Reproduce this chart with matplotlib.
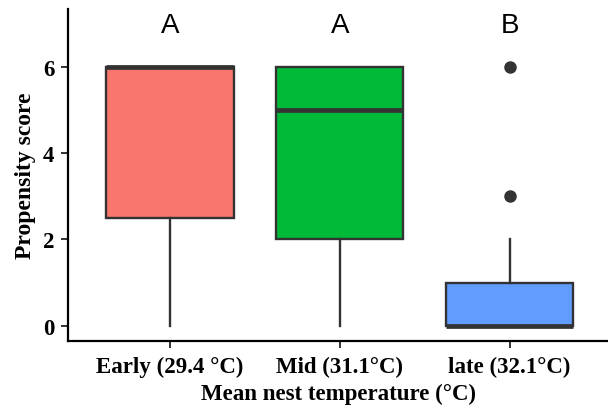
import numpy as np
import matplotlib
matplotlib.use('Agg')
import matplotlib.pyplot as plt

# Box summaries
groups = ['Early (29.4 °C)', 'Mid (31.1°C)', 'late (32.1°C)']
whisker_low = [0, 0, 0]
q1 = [2.5, 2, 0]
median = [6, 5, 0]
q3 = [6, 6, 1]
whisker_high = [6, 6, 2]
outliers = [[], [], [3, 6]]
letters = ['A', 'A', 'B']
colors = ['#F8766D', '#00BA38', '#619CFF']

edge = '#333333'
serif = 'Liberation Serif'

stats = []
for i in range(len(groups)):
    stats.append({'whislo': whisker_low[i], 'q1': q1[i], 'med': median[i],
                  'q3': q3[i], 'whishi': whisker_high[i], 'fliers': outliers[i]})

fig = plt.figure(figsize=(6.08, 4.10), dpi=100)
ax = fig.add_axes([0.112, 0.166, 0.888, 0.810])

pos = np.arange(1, len(groups) + 1)
bp = ax.bxp(stats, positions=pos, widths=0.75, patch_artist=True, showcaps=False,
            boxprops={'edgecolor': edge, 'linewidth': 1.7},
            whiskerprops={'color': edge, 'linewidth': 1.7},
            medianprops={'color': edge, 'linewidth': 3.4, 'solid_capstyle': 'butt'},
            flierprops={'marker': 'o', 'markerfacecolor': edge, 'markeredgecolor': edge,
                        'markersize': 8})
for patch, c in zip(bp['boxes'], colors):
    patch.set_facecolor(c)
for line in bp['medians']:
    line.set_zorder(5)

for x, lab in zip(pos, letters):
    ax.text(x, 6.97, lab, ha='center', va='center', fontsize=20,
            family='Liberation Sans')

ax.set_xlim(0.4, 3.58)
ax.set_ylim(-0.35, 7.34)
ax.set_yticks([0, 2, 4, 6])
ax.set_xticks(pos)
ax.set_xticklabels(groups)

for s in ['top', 'right']:
    ax.spines[s].set_visible(False)
for s in ['left', 'bottom']:
    ax.spines[s].set_linewidth(1.6)
    ax.spines[s].set_color('black')

ax.tick_params(length=5, width=1.4, color=edge)
ax.tick_params(axis='x', pad=6)
ax.tick_params(axis='y', pad=5)
for t in ax.get_xticklabels() + ax.get_yticklabels():
    t.set_fontfamily(serif)
    t.set_fontweight('bold')
    t.set_fontsize(16.5)
    t.set_color('black')

ax.set_xlabel('Mean nest temperature (°C)', family=serif, fontweight='bold',
              fontsize=16.5, labelpad=4)
ax.set_ylabel('Propensity score', family=serif, fontweight='bold', fontsize=17,
              labelpad=5)

plt.savefig('out.png', dpi=100)
